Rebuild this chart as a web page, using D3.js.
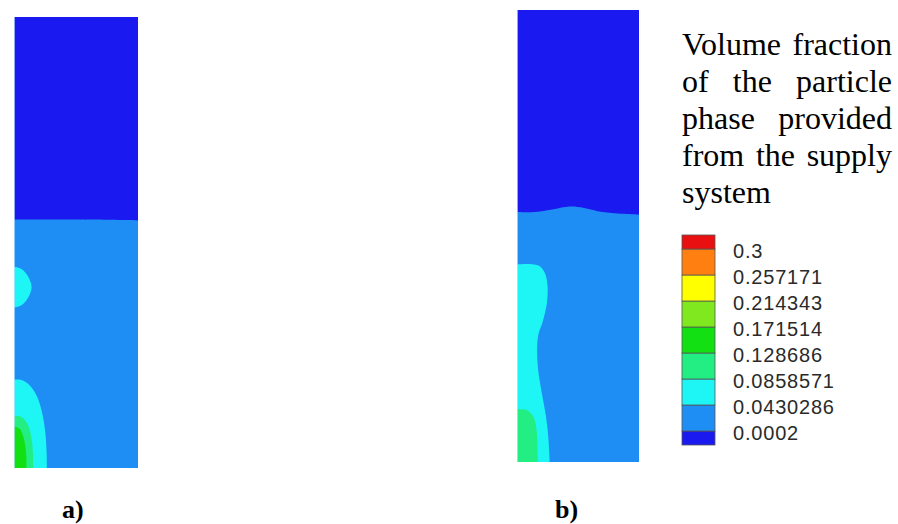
<!DOCTYPE html>
<html>
<head>
<meta charset="utf-8">
<script src="https://cdn.jsdelivr.net/npm/d3@7"></script>
<style>
  html, body { margin: 0; padding: 0; background: #fff; }
  svg { display: block; }
</style>
</head>
<body>
<svg id="chart" width="898" height="524"></svg>
<script>
// ---------------- DATA ----------------
// Contour levels (volume fraction), bottom to top of the legend
const levelLabels = ["0.0002", "0.0430286", "0.0858571", "0.128686", "0.171514", "0.214343", "0.257171", "0.3"];
// band colours, lowest band first (9 bands)
const bandColors = ["#1a1af0", "#1e8ef5", "#1ef6f6", "#22ee84", "#12e012", "#80e81e", "#ffff00", "#ff8010", "#e81010"];

const panelNames = ["a)", "b)"];
const titleLines = ["Volume fraction", "of the particle", "phase provided", "from the supply", "system"];

// Normalised coordinates: x = 0 (left wall) .. 1 (right wall), y = 0 (bottom) .. 1 (top)
// Bed surface (boundary between band 0 above and band 1 below)
const surfaceA = [[0, 0.551], [0.5, 0.551], [1, 0.549]];
const surfaceB = [[0, 0.553], [0.15, 0.553], [0.3, 0.559], [0.43, 0.565], [0.55, 0.562], [0.7, 0.553], [0.85, 0.549], [1, 0.547]];

// Iso-regions: boundary from the left wall down to the bottom (or back to the wall)
const bumpA    = [[0, 0.446], [0.06, 0.441], [0.11, 0.426], [0.142, 0.401], [0.11, 0.376], [0.06, 0.361], [0, 0.356]];
const cyanA    = [[0, 0.196], [0.06, 0.195], [0.12, 0.185], [0.18, 0.162], [0.225, 0.125], [0.252, 0.08], [0.263, 0.035], [0.265, 0]];
const seafoamA = [[0, 0.116], [0.06, 0.113], [0.11, 0.097], [0.142, 0.065], [0.154, 0.025], [0.156, 0]];
const greenA   = [[0, 0.092], [0.045, 0.087], [0.08, 0.065], [0.098, 0.03], [0.1, 0]];

const cyanB    = [[0, 0.437], [0.1, 0.438], [0.18, 0.434], [0.228, 0.418], [0.25, 0.39], [0.245, 0.352], [0.21, 0.31], [0.175, 0.282], [0.165, 0.245], [0.175, 0.2], [0.205, 0.15], [0.238, 0.1], [0.258, 0.05], [0.268, 0]];
const seafoamB = [[0, 0.116], [0.08, 0.115], [0.135, 0.1], [0.16, 0.072], [0.168, 0.03], [0.17, 0]];

const panels = [
  { name: panelNames[0], box: { x0: 14, x1: 138, top: 17, bottom: 468 }, surface: surfaceA,
    regions: [ { pts: bumpA, band: 2, closeWall: true }, { pts: cyanA, band: 2 }, { pts: seafoamA, band: 3 }, { pts: greenA, band: 4 } ],
    label: { x: 62, y: 518 } },
  { name: panelNames[1], box: { x0: 517, x1: 639, top: 10, bottom: 462 }, surface: surfaceB,
    regions: [ { pts: cyanB, band: 2 }, { pts: seafoamB, band: 3 } ],
    label: { x: 555, y: 518 } }
];

// ---------------- DRAW ----------------
const svg = d3.select("#chart");

panels.forEach(p => {
  const x = d3.scaleLinear().domain([0, 1]).range([p.box.x0, p.box.x1]);
  const y = d3.scaleLinear().domain([0, 1]).range([p.box.bottom, p.box.top]);
  const g = svg.append("g");
  const line = d3.line().x(d => x(d[0])).y(d => y(d[1])).curve(d3.curveCatmullRom.alpha(0.5));

  // base band (0.0002 - 0.043)
  g.append("rect")
    .attr("x", x(0)).attr("y", y(1))
    .attr("width", x(1) - x(0)).attr("height", y(0) - y(1))
    .attr("fill", bandColors[1]);

  // upper (empty) region above bed surface
  g.append("path")
    .attr("d", line(p.surface) + `L${x(1)},${y(1)}L${x(0)},${y(1)}Z`)
    .attr("fill", bandColors[0]);

  p.regions.forEach(r => {
    let d = line(r.pts);
    if (r.closeWall) d += "Z";
    else d += `L${x(0)},${y(0)}Z`;
    g.append("path").attr("d", d).attr("fill", bandColors[r.band]);
  });

  // faint light wall line on the left
  g.append("line")
    .attr("x1", x(0) + 0.5).attr("x2", x(0) + 0.5)
    .attr("y1", y(1)).attr("y2", y(0))
    .attr("stroke", "#bfe6ff").attr("stroke-width", 1).attr("opacity", 0.7);

  svg.append("text")
    .attr("x", p.label.x).attr("y", p.label.y)
    .attr("font-family", "'Liberation Serif', 'Times New Roman', serif")
    .attr("font-weight", "bold").attr("font-size", 26)
    .attr("fill", "#000")
    .text(p.name);
});

// ---------------- LEGEND ----------------
const ly = d3.scaleLinear().domain([0, levelLabels.length - 1]).range([431, 249]);
const step = ly(0) - ly(1);
const half = 14;
const lx0 = 682, lx1 = 715;
const lg = svg.append("g");
bandColors.forEach((c, i) => {
  const yBottom = i === 0 ? ly(0) + half : ly(i - 1);
  const yTop = i === bandColors.length - 1 ? ly(levelLabels.length - 1) - half : ly(i);
  lg.append("rect")
    .attr("x", lx0).attr("y", yTop)
    .attr("width", lx1 - lx0).attr("height", yBottom - yTop)
    .attr("fill", c)
    .attr("stroke", "#555").attr("stroke-width", 0.8);
});
levelLabels.forEach((t, i) => {
  lg.append("text")
    .attr("x", 733).attr("y", ly(i) + 1.5)
    .attr("dominant-baseline", "central")
    .attr("font-family", "'Liberation Sans', Arial, sans-serif")
    .attr("font-size", 20).attr("letter-spacing", 0.8)
    .attr("fill", "#2a2a2a")
    .text(t);
});

// ---------------- TITLE BLOCK (justified) ----------------
const tx0 = 682, tx1 = 892, tBase = 55, tLead = 37;
titleLines.forEach((ln, i) => {
  const words = ln.split(" ");
  const yy = tBase + i * tLead;
  const grp = svg.append("g");
  const nodes = words.map(w => grp.append("text")
    .attr("y", yy)
    .attr("font-family", "'Liberation Serif', 'Times New Roman', serif")
    .attr("font-size", 32).attr("fill", "#000")
    .text(w));
  const widths = nodes.map(n => n.node().getComputedTextLength());
  const last = i === titleLines.length - 1;
  if (words.length === 1 || last) {
    let cx = tx0;
    nodes.forEach((n, k) => { n.attr("x", cx); cx += widths[k] + 8; });
  } else {
    const total = d3.sum(widths);
    const gap = (tx1 - tx0 - total) / (words.length - 1);
    let cx = tx0;
    nodes.forEach((n, k) => { n.attr("x", cx); cx += widths[k] + gap; });
  }
});
</script>
</body>
</html>
